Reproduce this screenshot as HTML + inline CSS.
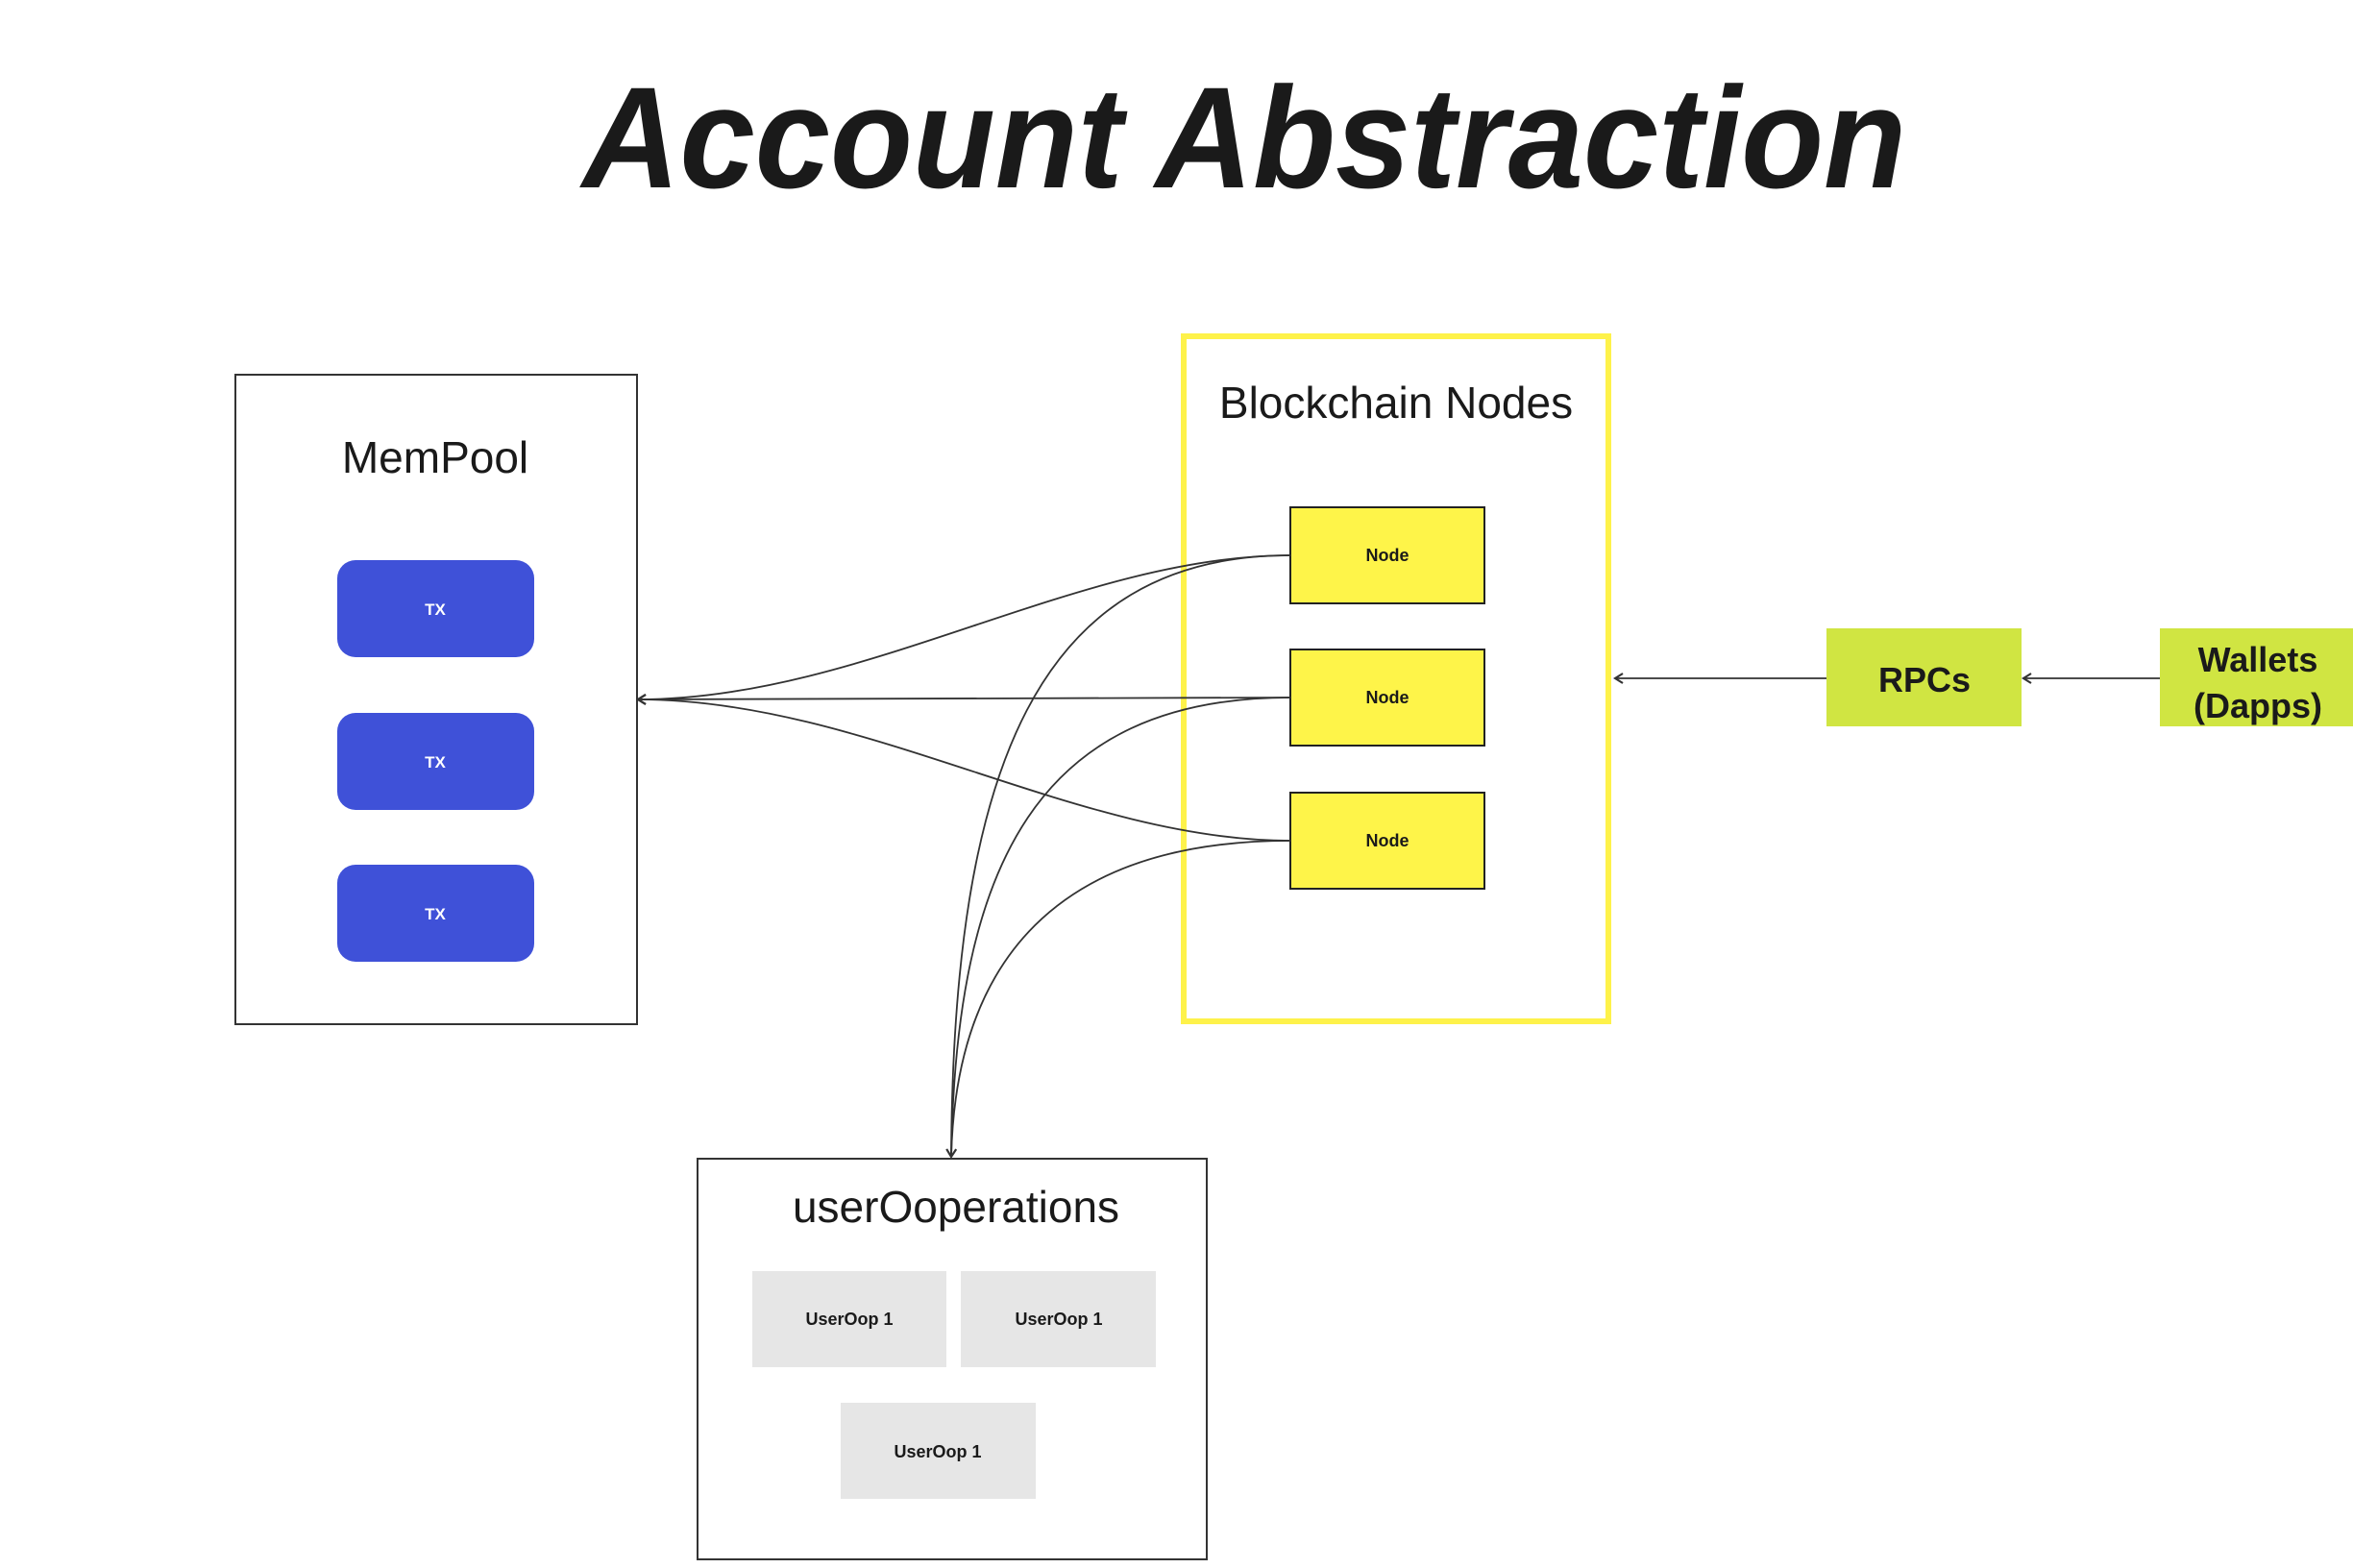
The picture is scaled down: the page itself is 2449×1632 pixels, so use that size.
<!DOCTYPE html>
<html><head><meta charset="utf-8"><style>
html,body{margin:0;padding:0;background:#fff;}
svg{display:block;}
</style></head><body>
<svg width="2449" height="1632" viewBox="0 0 2449 1632" xmlns="http://www.w3.org/2000/svg">
<defs>
<marker id="ah" markerWidth="12" markerHeight="12" refX="10" refY="6" orient="auto" markerUnits="userSpaceOnUse">
<path d="M2,1 L10,6 L2,11" fill="none" stroke="#333" stroke-width="2.2"/>
</marker>
</defs>
<rect width="2449" height="1632" fill="#fff"/>
<text x="1295" y="195" text-anchor="middle" font-family="Liberation Sans, DejaVu Sans, sans-serif" font-weight="bold" font-style="italic" font-size="150" textLength="1378" lengthAdjust="spacingAndGlyphs" fill="#1a1a1a">Account Abstraction</text>

<!-- MemPool -->
<rect x="245" y="390" width="418" height="676" fill="#fff" stroke="#333" stroke-width="2"/>
<text x="453" y="492" text-anchor="middle" font-family="Liberation Sans, sans-serif" font-size="46" fill="#1a1a1a">MemPool</text>
<g font-family="Liberation Sans, sans-serif" font-weight="bold" font-size="17" fill="#fff" text-anchor="middle">
<rect x="351" y="583" width="205" height="101" rx="19" fill="#3f51d8"/><text x="453" y="640">TX</text>
<rect x="351" y="742" width="205" height="101" rx="19" fill="#3f51d8"/><text x="453" y="799">TX</text>
<rect x="351" y="900" width="205" height="101" rx="19" fill="#3f51d8"/><text x="453" y="957">TX</text>
</g>

<!-- Blockchain -->
<rect x="1232" y="350" width="442" height="713" fill="#fff" stroke="#fef24a" stroke-width="6"/>
<text x="1453" y="435" text-anchor="middle" font-family="Liberation Sans, sans-serif" font-size="46" fill="#1a1a1a">Blockchain Nodes</text>
<g font-family="Liberation Sans, sans-serif" font-weight="bold" font-size="18" fill="#1a1a1a" text-anchor="middle">
<rect x="1343" y="528" width="202" height="100" fill="#fef449" stroke="#222" stroke-width="2"/><text x="1444" y="584">Node</text>
<rect x="1343" y="676" width="202" height="100" fill="#fef449" stroke="#222" stroke-width="2"/><text x="1444" y="732">Node</text>
<rect x="1343" y="825" width="202" height="100" fill="#fef449" stroke="#222" stroke-width="2"/><text x="1444" y="881">Node</text>
</g>

<!-- connectors to mempool -->
<g fill="none" stroke="#333" stroke-width="1.8">
<path d="M1343,578 C1120,578 900,728 664,728" marker-end="url(#ah)"/>
<path d="M1343,726 L664,728" marker-end="url(#ah)"/>
<path d="M1343,875 C1120,875 900,728 664,728" marker-end="url(#ah)"/>
<path d="M1343,578 C1080,578 992,800 990,1204"/>
<path d="M1343,726 C1080,726 995,900 990,1204"/>
<path d="M1343,875 C1100,875 995,1000 990,1204" marker-end="url(#ah)"/>
<path d="M2248,706 L2106,706" marker-end="url(#ah)"/>
<path d="M1901,706 L1681,706" marker-end="url(#ah)"/>
</g>

<!-- userOperations -->
<rect x="726" y="1206" width="530" height="417" fill="#fff" stroke="#333" stroke-width="2"/>
<text x="995" y="1272" text-anchor="middle" font-family="Liberation Sans, sans-serif" font-size="46" fill="#1a1a1a">userOoperations</text>
<g font-family="Liberation Sans, sans-serif" font-weight="bold" font-size="18" fill="#1a1a1a" text-anchor="middle">
<rect x="783" y="1323" width="202" height="100" fill="#e6e6e6"/><text x="884" y="1379">UserOop 1</text>
<rect x="1000" y="1323" width="203" height="100" fill="#e6e6e6"/><text x="1102" y="1379">UserOop 1</text>
<rect x="875" y="1460" width="203" height="100" fill="#e6e6e6"/><text x="976" y="1517">UserOop 1</text>
</g>

<!-- RPCs / Wallets -->
<rect x="1901" y="654" width="203" height="102" fill="#d0e542"/>
<text x="2003" y="720" text-anchor="middle" font-family="Liberation Sans, sans-serif" font-weight="bold" font-size="36" fill="#1a1a1a">RPCs</text>
<rect x="2248" y="654" width="201" height="102" fill="#d0e542"/>
<g font-family="Liberation Sans, sans-serif" font-weight="bold" font-size="36" fill="#1a1a1a" text-anchor="middle">
<text x="2350" y="699">Wallets</text>
<text x="2350" y="747">(Dapps)</text>
</g>
</svg>
</body></html>
